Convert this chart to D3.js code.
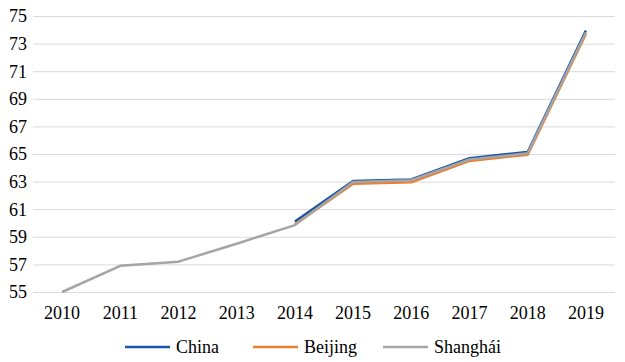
<!DOCTYPE html>
<html>
<head>
<meta charset="UTF-8">
<title>Line chart</title>
<style>
    body { margin: 0; padding: 0; background: #fff; }
    .grid line { stroke: #d9d9d9; stroke-width: 1; }
    .grid path { display: none; }
</style>
</head>
<body>
<div id="chart"></div>
<script src="https://cdn.jsdelivr.net/npm/d3@7"></script>
<script>
const years = [2010, 2011, 2012, 2013, 2014, 2015, 2016, 2017, 2018, 2019];
const yTicks = [55, 57, 59, 61, 63, 65, 67, 69, 71, 73, 75];
const china = [null, null, null, null, 60.1, 63.05, 63.15, 64.7, 65.15, 73.95];
const beijing = [null, null, null, null, 59.9, 62.85, 62.95, 64.5, 64.95, 73.7];
const shanghai = [55.0, 56.9, 57.2, 58.5, 59.85, 62.97, 63.1, 64.6, 65.05, 73.8];

const series = [
    { name: "China", values: china, color: "#1b57a6" },
    { name: "Beijing", values: beijing, color: "#ed7d31" },
    { name: "Shanghái", values: shanghai, color: "#a5a5a5" }
];

const w = 625, h = 362;
const plotLeft = 33, plotRight = 615, plotTop = 16, plotBottom = 292;
const font = "'Liberation Serif', 'Times New Roman', serif";

const svg = d3.select("#chart").append("svg")
    .attr("width", w)
    .attr("height", h)
    .attr("font-family", font)
    .attr("font-size", 18);

const x = d3.scaleBand().domain(years).range([plotLeft, plotRight]);
const y = d3.scaleLinear().domain([55, 75]).range([plotBottom, plotTop]);

// gridlines
svg.append("g")
    .attr("class", "grid")
    .attr("transform", "translate(" + plotLeft + ",0)")
    .call(d3.axisLeft(y).tickValues(yTicks).tickSize(-(plotRight - plotLeft)).tickFormat(""));

// y labels
svg.append("g").selectAll("text")
    .data(yTicks)
    .enter().append("text")
    .attr("x", 27)
    .attr("y", d => y(d))
    .attr("dy", "0.35em")
    .attr("text-anchor", "end")
    .attr("font-family", font)
    .attr("font-size", 18)
    .text(d => d);

// x labels
svg.append("g").selectAll("text")
    .data(years)
    .enter().append("text")
    .attr("x", d => x(d) + x.bandwidth() / 2)
    .attr("y", 319)
    .attr("text-anchor", "middle")
    .attr("font-family", font)
    .attr("font-size", 18)
    .text(d => d);

const line = d3.line()
    .defined(d => d != null)
    .x((d, i) => x(years[i]) + x.bandwidth() / 2)
    .y(d => y(d));

svg.append("g").selectAll("path")
    .data(series)
    .enter().append("path")
    .attr("d", s => line(s.values))
    .attr("fill", "none")
    .attr("stroke", s => s.color)
    .attr("stroke-width", 2.5)
    .attr("stroke-linejoin", "round");

// legend
const legendX = [125, 253, 383];
const lg = svg.append("g").selectAll("g")
    .data(series)
    .enter().append("g")
    .attr("transform", (s, i) => "translate(" + legendX[i] + ",347)");

lg.append("line")
    .attr("x1", 0).attr("x2", 45)
    .attr("y1", 0).attr("y2", 0)
    .attr("stroke", s => s.color)
    .attr("stroke-width", 2.5);

lg.append("text")
    .attr("x", 51)
    .attr("dy", "0.35em")
    .attr("font-family", font)
    .attr("font-size", 18)
    .text(s => s.name);
</script>
</body>
</html>
